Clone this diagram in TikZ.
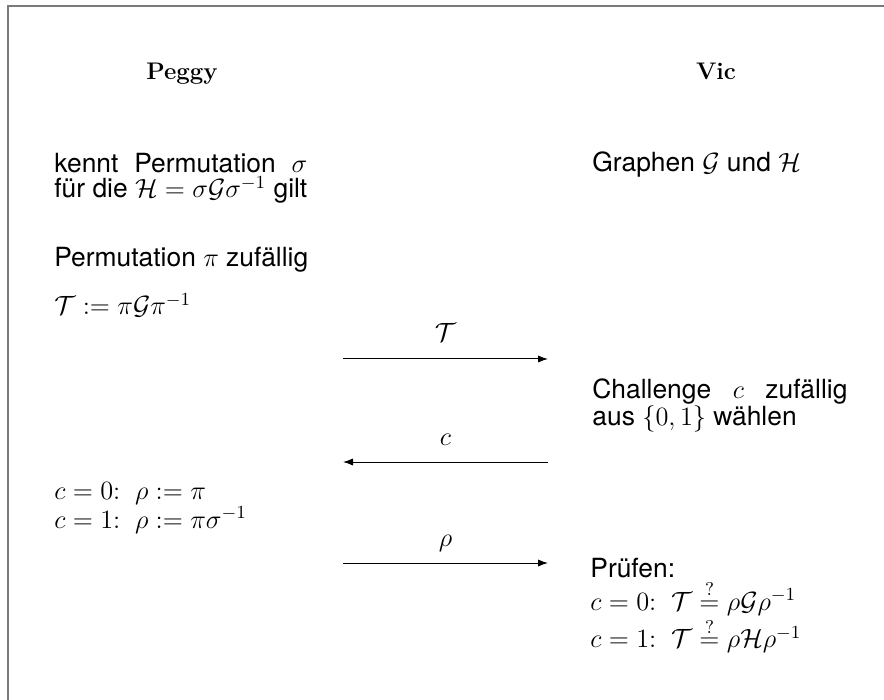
\RequirePackage{fix-cm}
\documentclass[tikz,border=0pt]{standalone}
\usepackage{amsmath,amssymb}
\usepackage{fontspec}
\setsansfont{TeX Gyre Heros}
\usetikzlibrary{arrows.meta}
\newlength\secretwd

\begin{document}
\begin{tikzpicture}[x=0.5pt,y=-0.5pt,
  party/.style={font=\fontsize{12}{14}\selectfont\bfseries,anchor=base},
  txt/.style={font=\fontsize{13.2}{12.5}\selectfont\sffamily,inner sep=0pt},
  lbl/.style={font=\fontsize{13.2}{14}\selectfont,inner sep=0pt,anchor=base,yshift=8.5pt},
  msg/.style={-{Latex[length=5pt,width=3.6pt]},line width=0.5pt}]
\useasboundingbox (0,0) rectangle (884,700);
\draw[line width=1pt,black!52] (8,700) -- (8,6.5) -- (884,6.5);
% the two parties
\node[party] (peggy) at (182,80) {Peggy};
\node[party] (vic) at (716,80) {Vic};
% Peggy's side
\node[txt,align=left,anchor=north west] (secret) at (54,153)
  {\settowidth{\secretwd}{für die $\mathcal{H}=\sigma\mathcal{G}\sigma^{-1}$ gilt}%
   \makebox[\secretwd][s]{kennt Permutation $\sigma$}\\
   für die $\mathcal{H}=\sigma\mathcal{G}\sigma^{-1}$ gilt};
\node[txt,anchor=base west] (perm) at (54,267) {Permutation $\pi$ zufällig};
\node[txt,anchor=base west] (commit) at (54,315) {$\mathcal{T}:=\pi\mathcal{G}\pi^{-1}$};
\node[txt,align=left,anchor=north west] (resp) at (54,482)
  {$c=0{:}\;\;\rho:=\pi$\\ $c=1{:}\;\;\rho:=\pi\sigma^{-1}$};
% Vic's side
\node[txt,anchor=base west] (graphs) at (592,172) {Graphen $\mathcal{G}$ und $\mathcal{H}$};
\node[txt,text width=127.5pt,align=justify,anchor=north west] (chal) at (592,378)
  {Challenge $c$ zufällig\linebreak aus $\{0,1\}$ wählen};
\node[txt,align=left,anchor=north west] (check) at (590,558)
  {Prüfen:\\ $c=0{:}\;\;\mathcal{T}\stackrel{?}{=}\rho\mathcal{G}\rho^{-1}$\\
   $c=1{:}\;\;\mathcal{T}\stackrel{?}{=}\rho\mathcal{H}\rho^{-1}$};
% messages
\coordinate (pT) at (343,359); \coordinate (vT) at (548,359);
\coordinate (pc) at (343,462); \coordinate (vc) at (548,462);
\coordinate (pr) at (343,563); \coordinate (vr) at (548,563);
\draw[msg] (pT) -- (vT) node[lbl,midway] {$\mathcal{T}$};
\draw[msg] (vc) -- (pc) node[lbl,midway] {$c$};
\draw[msg] (pr) -- (vr) node[lbl,midway] {$\rho$};
\end{tikzpicture}
\end{document}
